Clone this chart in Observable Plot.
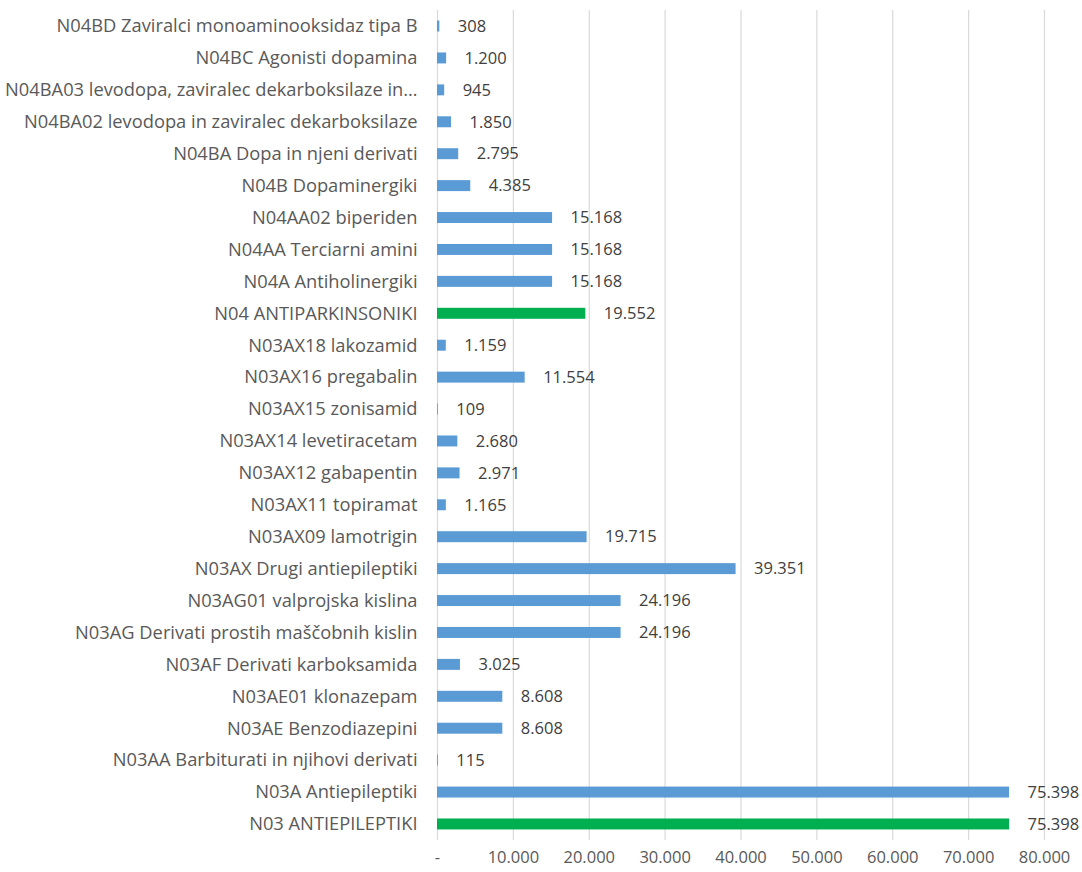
<!DOCTYPE html>
<html>
<head>
<meta charset="utf-8">
<script src="https://cdn.jsdelivr.net/npm/d3@7"></script>
<script src="https://cdn.jsdelivr.net/npm/@observablehq/plot@0.6"></script>
<style>
  html, body { margin: 0; padding: 0; background: #fff; }
  #chart { width: 1082px; height: 872px; }
</style>
</head>
<body>
<div id="chart"></div>
<script>
const categories = [
  "N04BD Zaviralci monoaminooksidaz tipa B",
  "N04BC Agonisti dopamina",
  "N04BA03 levodopa, zaviralec dekarboksilaze in…",
  "N04BA02 levodopa in zaviralec dekarboksilaze",
  "N04BA Dopa in njeni derivati",
  "N04B Dopaminergiki",
  "N04AA02 biperiden",
  "N04AA Terciarni amini",
  "N04A Antiholinergiki",
  "N04 ANTIPARKINSONIKI",
  "N03AX18 lakozamid",
  "N03AX16 pregabalin",
  "N03AX15 zonisamid",
  "N03AX14 levetiracetam",
  "N03AX12 gabapentin",
  "N03AX11 topiramat",
  "N03AX09 lamotrigin",
  "N03AX Drugi antiepileptiki",
  "N03AG01 valprojska kislina",
  "N03AG Derivati prostih maščobnih kislin",
  "N03AF Derivati karboksamida",
  "N03AE01 klonazepam",
  "N03AE Benzodiazepini",
  "N03AA Barbiturati in njihovi derivati",
  "N03A Antiepileptiki",
  "N03 ANTIEPILEPTIKI"
];
const values = [308, 1200, 945, 1850, 2795, 4385, 15168, 15168, 15168, 19552,
  1159, 11554, 109, 2680, 2971, 1165, 19715, 39351, 24196, 24196, 3025, 8608, 8608, 115, 75398, 75398];
const groupLevel = ["sub","sub","sub","sub","sub","sub","sub","sub","sub","main",
  "sub","sub","sub","sub","sub","sub","sub","sub","sub","sub","sub","sub","sub","sub","sub","main"];
const tickValues = [0, 10000, 20000, 30000, 40000, 50000, 60000, 70000, 80000];

const data = categories.map((c, i) => ({cat: c, value: values[i], level: groupLevel[i]}));
const fmt = v => v === 0 ? "-" : d3.format(",")(v).replace(/,/g, ".");

const chart = Plot.plot({
  width: 1082,
  height: 872,
  marginLeft: 437,
  marginRight: 38,
  marginTop: 0.5,
  marginBottom: 22.5,
  style: {fontFamily: "'Open Sans', sans-serif", color: "#595959", background: "#fff"},
  x: {domain: [0, 80000], ticks: tickValues},
  y: {domain: categories, padding: 0.6, round: false},
  color: {domain: ["sub", "main"], range: ["#5b9bd5", "#00b050"]},
  marks: [
    Plot.ruleX(tickValues, {stroke: "#d9d9d9", strokeWidth: 1.2, insetTop: 9.5, insetBottom: 9.5}),
    Plot.barX(data, {y: "cat", x: "value", fill: "level", insetTop: 0.9, insetBottom: 0.9}),
    Plot.text(data, {y: "cat", x: "value", text: d => fmt(d.value), textAnchor: "start", dx: 18, fontSize: 16.5, fill: "#404040"}),
    Plot.axisY({tickSize: 0, tickPadding: 20, fontSize: 18.3, fill: "#595959", label: null}),
    Plot.axisX({ticks: tickValues, tickSize: 0, tickPadding: 1, tickFormat: fmt, fontSize: 16.5, fill: "#595959", label: null})
  ]
});
document.getElementById("chart").appendChild(chart);
</script>
</body>
</html>
